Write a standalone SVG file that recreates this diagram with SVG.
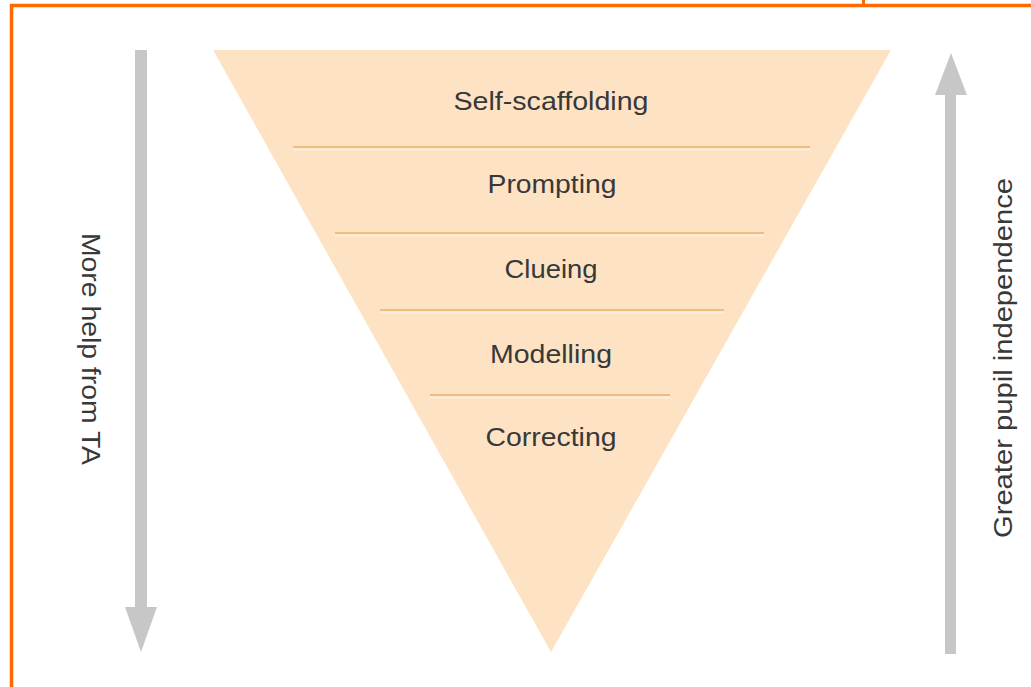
<svg xmlns="http://www.w3.org/2000/svg" width="1031" height="687" viewBox="0 0 1031 687">
<style>
.lbl{font-family:"Liberation Sans",Arial,sans-serif;font-size:26px;fill:#383838;text-anchor:middle}
.sep{stroke:#E8B26A;stroke-width:1.6}
.hl{stroke:#FDEEDC;stroke-width:2}
.arr{fill:#C7C7C7}
.frame{stroke:#FF6A00;stroke-width:3.5;fill:none}
</style>
<rect width="1031" height="687" fill="#FFFFFF"/>
<g id="frame">
<path class="frame" d="M11.5,687 V5.5 H1031"/>
<line x1="863.5" y1="0" x2="863.5" y2="6" stroke="#FF6A00" stroke-width="3"/>
</g>
<g id="pyramid">
<polygon points="213,50 891,50 551,652" fill="#FDE3C3"/>
</g>
<g id="connectors">
<line class="sep" x1="293" y1="147" x2="810" y2="147"/>
<line class="hl" x1="293" y1="149.5" x2="810" y2="149.5"/>
<line class="sep" x1="335" y1="233" x2="764" y2="233"/>
<line class="hl" x1="335" y1="235.5" x2="764" y2="235.5"/>
<line class="sep" x1="380" y1="310" x2="724" y2="310"/>
<line class="hl" x1="380" y1="312.5" x2="724" y2="312.5"/>
<line class="sep" x1="430" y1="395" x2="670" y2="395"/>
<line class="hl" x1="430" y1="397.5" x2="670" y2="397.5"/>
</g>
<g id="level-self-scaffolding"><text class="lbl" x="551" y="110" textLength="195" lengthAdjust="spacingAndGlyphs">Self-scaffolding</text></g>
<g id="level-prompting"><text class="lbl" x="552" y="193" textLength="129" lengthAdjust="spacingAndGlyphs">Prompting</text></g>
<g id="level-clueing"><text class="lbl" x="551" y="278" textLength="93" lengthAdjust="spacingAndGlyphs">Clueing</text></g>
<g id="level-modelling"><text class="lbl" x="551" y="363" textLength="122" lengthAdjust="spacingAndGlyphs">Modelling</text></g>
<g id="level-correcting"><text class="lbl" x="551" y="446" textLength="131" lengthAdjust="spacingAndGlyphs">Correcting</text></g>
<g id="arrow-left">
<rect class="arr" x="135" y="50" width="12" height="558"/>
<polygon class="arr" points="125,607 157,607 141,652"/>
</g>
<g id="arrow-right">
<rect class="arr" x="945" y="94" width="11" height="560"/>
<polygon class="arr" points="935,95 967,95 951,53"/>
</g>
<g id="label-left"><text class="lbl" transform="translate(82,349) rotate(90)" x="0" y="0" textLength="232" lengthAdjust="spacingAndGlyphs">More help from TA</text></g>
<g id="label-right"><text class="lbl" transform="translate(1012,358) rotate(-90)" x="0" y="0" textLength="360" lengthAdjust="spacingAndGlyphs">Greater pupil independence</text></g>
</svg>
